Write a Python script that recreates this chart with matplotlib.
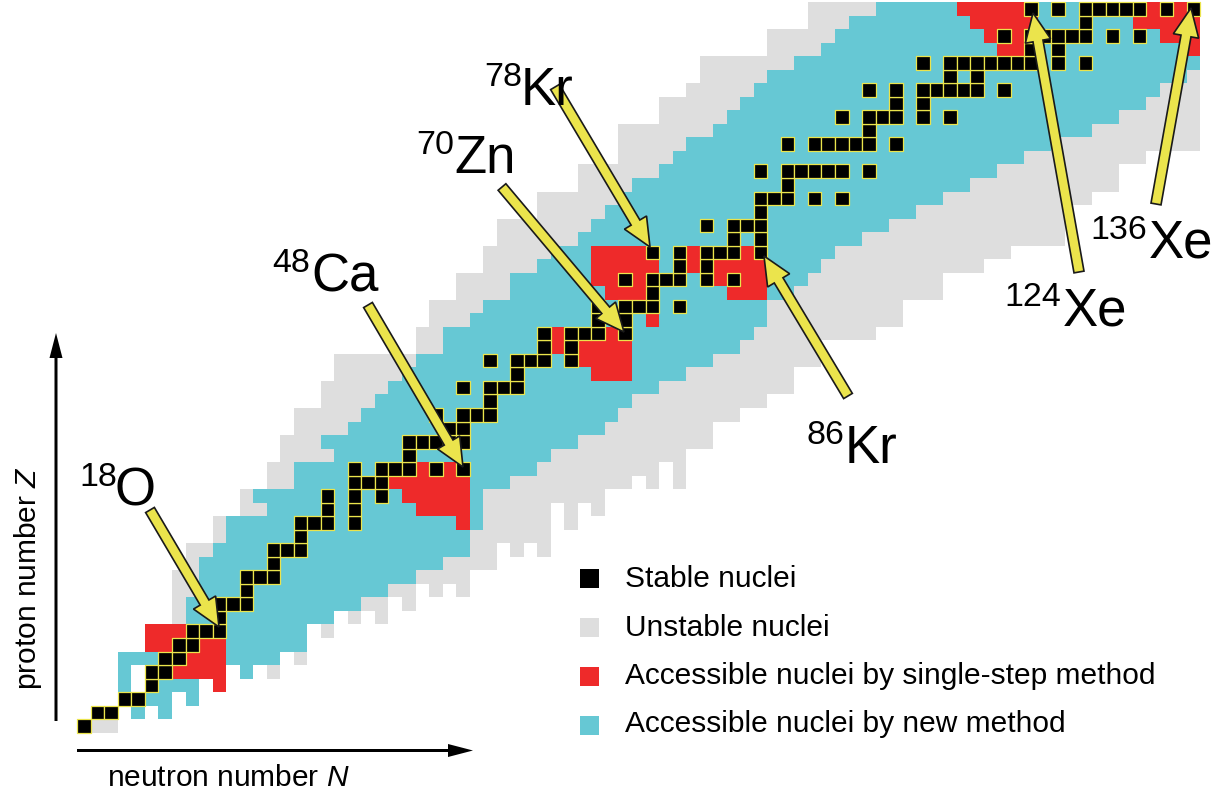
import numpy as np
import matplotlib
matplotlib.use('Agg')
import matplotlib.pyplot as plt
from matplotlib.colors import ListedColormap
from matplotlib.patches import Rectangle, FancyArrow
from matplotlib.collections import PatchCollection

plt.rcParams['font.family'] = ['Liberation Sans', 'DejaVu Sans']
plt.rcParams['mathtext.fontset'] = 'custom'
plt.rcParams['mathtext.rm'] = 'Liberation Sans'
plt.rcParams['mathtext.it'] = 'Liberation Sans:italic'

# Carta de nucleidos: (Z, N primero, N ultimo)
GRAY_RUNS = [
    (1, 1, 2), (5, 14, 14), (6, 16, 16), (8, 18, 18),
    (9, 7, 18), (9, 20, 20), (9, 22, 22),
    (10, 7, 22), (10, 24, 24),
    (11, 7, 24), (11, 26, 26), (11, 28, 28),
    (12, 7, 28), (13, 8, 30),
    (14, 8, 30), (14, 32, 32), (14, 34, 34),
    (15, 10, 34), (16, 10, 34), (16, 36, 36),
    (17, 12, 34), (17, 36, 36), (17, 38, 38),
    (18, 12, 38),
    (19, 14, 40), (19, 42, 42), (19, 44, 44),
    (20, 14, 42), (20, 44, 44),
    (21, 15, 44), (22, 15, 46), (23, 16, 46), (24, 16, 48), (25, 18, 50),
    (26, 18, 52), (27, 19, 52), (28, 19, 54), (29, 25, 54), (30, 25, 58),
    (31, 26, 60), (32, 26, 60), (33, 28, 63), (34, 28, 63), (35, 30, 66),
    (36, 30, 68), (37, 31, 72), (38, 31, 72), (39, 34, 72), (40, 34, 74),
    (41, 37, 76), (42, 37, 76), (43, 40, 78), (44, 40, 82), (45, 40, 82),
    (46, 43, 82), (47, 43, 82), (48, 45, 82), (49, 46, 82), (50, 46, 82),
    (51, 51, 82), (52, 51, 82), (53, 54, 82), (54, 54, 82),
]

CYAN_RUNS = [
    (2, 4, 4), (2, 6, 6), (3, 5, 6), (3, 8, 8), (4, 3, 3), (4, 6, 8),
    (5, 3, 3), (5, 12, 12), (6, 3, 5), (6, 11, 14), (7, 11, 16), (8, 11, 16),
    (9, 8, 9), (9, 11, 18), (10, 8, 9), (10, 13, 20), (11, 9, 22), (12, 9, 24),
    (13, 9, 26), (14, 10, 28), (15, 11, 28), (16, 11, 29), (17, 14, 29),
    (18, 13, 29), (19, 16, 31), (20, 16, 33), (21, 19, 34), (22, 18, 36),
    (23, 20, 38), (24, 21, 39), (25, 22, 40), (26, 23, 42), (27, 24, 44),
    (28, 25, 46), (29, 27, 48), (30, 27, 49), (31, 29, 50), (32, 30, 50),
    (33, 32, 52), (34, 32, 53), (35, 34, 54), (36, 35, 55), (37, 37, 57),
    (38, 38, 59), (39, 39, 61), (40, 40, 63), (41, 41, 65), (42, 43, 67),
    (43, 44, 69), (44, 45, 71), (45, 47, 74), (46, 48, 76), (47, 49, 78),
    (48, 50, 79), (49, 51, 81), (50, 53, 82), (51, 55, 82), (52, 56, 82),
    (53, 57, 82), (54, 59, 82),
]

RED_RUNS = [
    (4, 10, 10), (5, 7, 10), (6, 8, 10), (7, 5, 6), (7, 9, 10), (8, 5, 7),
    (16, 28, 28), (17, 25, 28), (18, 24, 28), (19, 23, 28),
    (20, 25, 25), (20, 27, 27),
    (27, 38, 40), (28, 37, 40), (29, 35, 35), (29, 37, 40),
    (30, 35, 35), (30, 39, 39), (31, 42, 42),
    (33, 39, 41), (33, 48, 50), (34, 38, 39), (34, 41, 41), (34, 47, 47),
    (34, 49, 50), (35, 38, 42), (35, 45, 45), (35, 47, 50),
    (36, 38, 41), (36, 45, 45), (36, 49, 49),
    (51, 68, 69), (51, 82, 82), (52, 67, 67), (52, 69, 69), (52, 80, 82),
    (53, 66, 70), (53, 78, 82), (54, 65, 69), (54, 79, 79), (54, 81, 81),
]

# Nucleos estables: Z -> lista de N
STABLE = {
    1: [0], 2: [1, 2], 3: [3, 4], 4: [5], 5: [5, 6], 6: [6, 7], 7: [7, 8],
    8: [8, 9, 10], 9: [10], 10: [10, 11, 12], 11: [12], 12: [12, 13, 14],
    13: [14], 14: [14, 15, 16], 15: [16], 16: [16, 17, 18, 20], 17: [18, 20],
    18: [18, 20, 22], 19: [20, 21, 22], 20: [20, 22, 23, 24, 26, 28], 21: [24],
    22: [24, 25, 26, 27, 28], 23: [27, 28], 24: [26, 28, 29, 30], 25: [30],
    26: [28, 30, 31, 32], 27: [32], 28: [30, 32, 33, 34, 36], 29: [34, 36],
    30: [34, 36, 37, 38, 40], 31: [38, 40], 32: [38, 40, 41, 42, 44], 33: [42],
    34: [40, 42, 43, 44, 46, 48], 35: [44, 46], 36: [42, 44, 46, 47, 48, 50],
    37: [48, 50], 38: [46, 48, 49, 50], 39: [50], 40: [50, 51, 52, 54, 56],
    41: [52], 42: [50, 52, 53, 54, 55, 56, 58], 44: [52, 54, 55, 56, 57, 58, 60],
    45: [58], 46: [56, 58, 59, 60, 62, 64], 47: [60, 62],
    48: [58, 60, 62, 63, 64, 65, 66, 68], 49: [64, 66],
    50: [62, 64, 65, 66, 67, 68, 69, 70, 72, 74], 51: [70, 72],
    52: [68, 70, 71, 72, 73, 74, 76, 78], 53: [74],
    54: [70, 72, 74, 75, 76, 77, 78, 80, 82],
}

# Etiquetas: superindice, simbolo, pixel del texto, cola y punta de la flecha
LABELS = [
    ('18', 'O', (79, 486), (115, 505), (150, 510), (219, 627)),
    ('48', 'Ca', (272, 272), (311, 291), (368, 305), (463, 467)),
    ('70', 'Zn', (416, 154), (454, 173), (502, 187), (624, 332)),
    ('78', 'Kr', (484, 86), (521, 105), (555, 87), (650, 247)),
    ('86', 'Kr', (807, 444), (845, 463), (848, 396), (764, 256)),
    ('124', 'Xe', (1004, 306), (1063, 325), (1079, 272), (1033, 13)),
    ('136', 'Xe', (1090, 239), (1149, 258), (1156, 204), (1191, 8)),
]

LEGEND = ['Stable nuclei', 'Unstable nuclei',
          'Accessible nuclei by single-step method',
          'Accessible nuclei by new method']

GRAY, CYAN, RED, YELLOW = '#dedede', '#66c8d4', '#ee2a2a', '#ebe44c'

CELL, X0, Y0 = 13.53, 77.3, 732.7
N_MAX, Z_MAX = 82, 54


def px2data(px, py):
    return (px - X0) / CELL - 0.5, (Y0 - py) / CELL + 0.5


codes = np.full((Z_MAX, N_MAX + 1), np.nan)
for value, runs in enumerate([GRAY_RUNS, CYAN_RUNS, RED_RUNS]):
    for z, n0, n1 in runs:
        codes[z - 1, n0:n1 + 1] = value

fig = plt.figure(figsize=(12.25, 7.94), dpi=100)
ax = fig.add_axes([0, 0, 1, 1])
x_left, y_bottom = px2data(0, 794)
x_right, y_top = px2data(1225, 0)
ax.set_xlim(x_left, x_right)
ax.set_ylim(y_bottom, y_top)
ax.axis('off')

n_edges = np.arange(N_MAX + 2) - 0.5
z_edges = np.arange(Z_MAX + 1) + 0.5
ax.pcolormesh(n_edges, z_edges, np.ma.masked_invalid(codes),
              cmap=ListedColormap([GRAY, CYAN, RED]), vmin=-0.5, vmax=2.5,
              edgecolors='none', antialiased=False, zorder=1)

# Estables
squares = [Rectangle((n - 0.5, z - 0.5), 1, 1) for z, ns in STABLE.items() for n in ns]
ax.add_collection(PatchCollection(squares, facecolor='black', edgecolor=YELLOW,
                                  linewidth=0.9, zorder=2))

# Flechas y etiquetas
for sup, sym, sup_px, sym_px, tail, tip in LABELS:
    x0, y0 = px2data(*tail)
    x1, y1 = px2data(*tip)
    ax.add_patch(FancyArrow(x0, y0, x1 - x0, y1 - y0, width=0.75, head_width=1.9,
                            head_length=2.1, length_includes_head=True,
                            facecolor=YELLOW, edgecolor='#1a1a1a', linewidth=1.2, zorder=5))
    ax.text(*px2data(*sup_px), sup, fontsize=24.5, ha='left', va='baseline', zorder=6)
    ax.text(*px2data(*sym_px), sym, fontsize=38, ha='left', va='baseline', zorder=6)

# Leyenda
legend_colors = ['black', GRAY, RED, CYAN]
legend_top = [569, 618, 667, 716]
legend_base = [587, 635.5, 684.5, 732]
for label, color, top, base in zip(LEGEND, legend_colors, legend_top, legend_base):
    lx, ly = px2data(580, top + 19)
    ax.add_patch(Rectangle((lx, ly), 19 / CELL, 19 / CELL, facecolor=color,
                           edgecolor='none', zorder=3))
    ax.text(*px2data(625, base), label, fontsize=21.5, ha='left', va='baseline', zorder=3)

# Ejes
ax0, ay0 = px2data(56, 721)
ax1, ay1 = px2data(56, 333)
ax.add_patch(FancyArrow(ax0, ay0, 0, ay1 - ay0, width=3 / CELL, head_width=13 / CELL,
                        head_length=25 / CELL, length_includes_head=True,
                        color='black', linewidth=0, zorder=3))
bx0, by0 = px2data(77, 750.5)
bx1, by1 = px2data(473, 750.5)
ax.add_patch(FancyArrow(bx0, by0, bx1 - bx0, 0, width=3 / CELL, head_width=13 / CELL,
                        head_length=25 / CELL, length_includes_head=True,
                        color='black', linewidth=0, zorder=3))
ax.text(*px2data(36.5, 578), 'proton number $Z$', fontsize=21.5, rotation=90,
        rotation_mode='anchor', ha='center', va='baseline')
ax.text(*px2data(107, 786), 'neutron number $N$', fontsize=21.5, ha='left', va='baseline')

fig.savefig('out.png', dpi=100)
plt.close()
